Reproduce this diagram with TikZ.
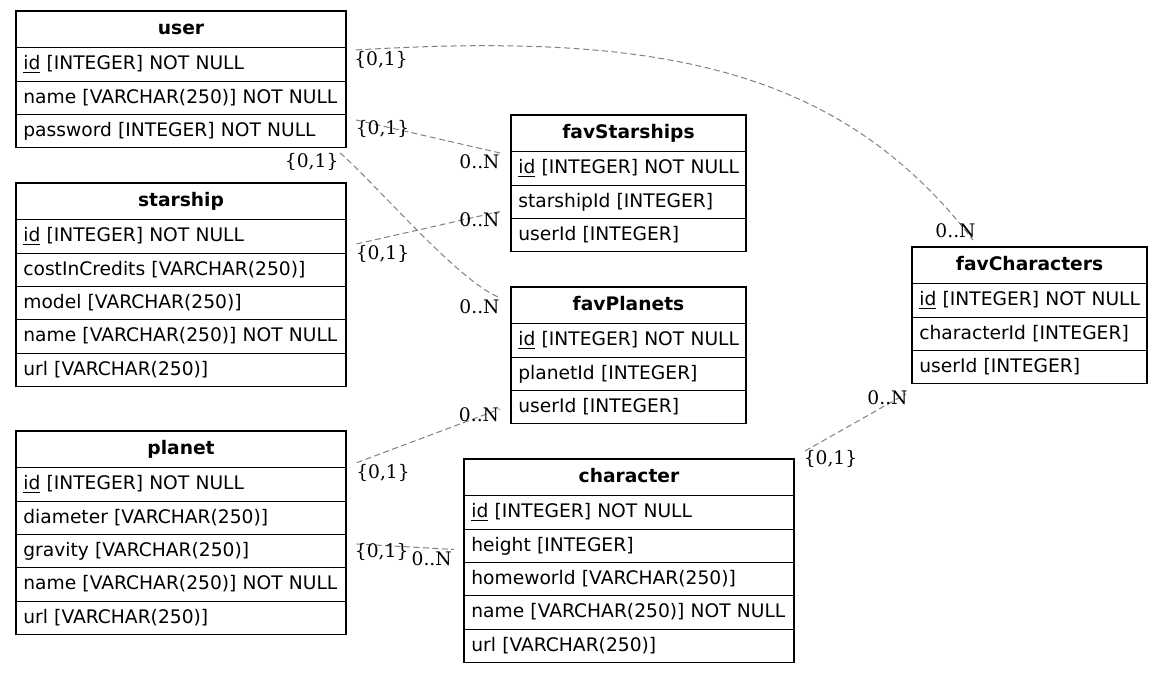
\documentclass[tikz,border=0pt]{standalone}
\usepackage{fontspec}
\setmainfont{DejaVu Sans}
\newfontfamily\lblfont{DejaVu Serif}
\usetikzlibrary{calc}
\definecolor{edgegray}{RGB}{128,128,128}
\newcommand\keyid{$\underline{\hbox{id}}$}
\newcommand\cellt[1]{\mbox{#1}}
\begin{document}
\begin{tikzpicture}[x=0.75pt,y=-0.75pt,
  tbl/.style={draw=black, line width=0.8pt, rectangle, anchor=north west, outer sep=0pt, inner xsep=5.5pt, inner ysep=0pt, text height=10.5pt, text depth=2.55pt, font=\fontsize{14pt}{16pt}\selectfont},
  hdr/.style={tbl, minimum height=27.5pt, align=center, font=\fontsize{14pt}{16pt}\selectfont\bfseries},
  row/.style={tbl, minimum height=25.05pt, align=left},
  wide/.style={minimum width=247.5pt, text width=236.5pt},
  narrow/.style={minimum width=176.25pt, text width=165.25pt},
  rel/.style={draw=edgegray, line width=0.75pt, dash pattern=on 4.5pt off 2.6pt},
  card/.style={inner sep=0pt, font=\lblfont\fontsize{14pt}{16pt}\selectfont}
]
\useasboundingbox (0,0) rectangle (1163,673);

% user
\node[hdr,wide] (u0) at (16,11) {user};
\node[row,wide] (u1) at (u0.south west) {\cellt{\keyid{} [INTEGER] NOT NULL}};
\node[row,wide] (u2) at (u1.south west) {\cellt{name [VARCHAR(250)] NOT NULL}};
\node[row,wide] (u3) at (u2.south west) {\cellt{password [INTEGER] NOT NULL}};

% starship
\node[hdr,wide] (s0) at (16,183) {starship};
\node[row,wide] (s1) at (s0.south west) {\cellt{\keyid{} [INTEGER] NOT NULL}};
\node[row,wide] (s2) at (s1.south west) {\cellt{costInCredits [VARCHAR(250)]}};
\node[row,wide] (s3) at (s2.south west) {\cellt{model [VARCHAR(250)]}};
\node[row,wide] (s4) at (s3.south west) {\cellt{name [VARCHAR(250)] NOT NULL}};
\node[row,wide] (s5) at (s4.south west) {\cellt{url [VARCHAR(250)]}};

% planet
\node[hdr,wide] (p0) at (16,431) {planet};
\node[row,wide] (p1) at (p0.south west) {\cellt{\keyid{} [INTEGER] NOT NULL}};
\node[row,wide] (p2) at (p1.south west) {\cellt{diameter [VARCHAR(250)]}};
\node[row,wide] (p3) at (p2.south west) {\cellt{gravity [VARCHAR(250)]}};
\node[row,wide] (p4) at (p3.south west) {\cellt{name [VARCHAR(250)] NOT NULL}};
\node[row,wide] (p5) at (p4.south west) {\cellt{url [VARCHAR(250)]}};

% favStarships
\node[hdr,narrow] (fs0) at (511,115) {favStarships};
\node[row,narrow] (fs1) at (fs0.south west) {\cellt{\keyid{} [INTEGER] NOT NULL}};
\node[row,narrow] (fs2) at (fs1.south west) {\cellt{starshipId [INTEGER]}};
\node[row,narrow] (fs3) at (fs2.south west) {\cellt{userId [INTEGER]}};

% favPlanets
\node[hdr,narrow] (fp0) at (511,287) {favPlanets};
\node[row,narrow] (fp1) at (fp0.south west) {\cellt{\keyid{} [INTEGER] NOT NULL}};
\node[row,narrow] (fp2) at (fp1.south west) {\cellt{planetId [INTEGER]}};
\node[row,narrow] (fp3) at (fp2.south west) {\cellt{userId [INTEGER]}};

% character
\node[hdr,wide] (c0) at (464,459) {character};
\node[row,wide] (c1) at (c0.south west) {\cellt{\keyid{} [INTEGER] NOT NULL}};
\node[row,wide] (c2) at (c1.south west) {\cellt{height [INTEGER]}};
\node[row,wide] (c3) at (c2.south west) {\cellt{homeworld [VARCHAR(250)]}};
\node[row,wide] (c4) at (c3.south west) {\cellt{name [VARCHAR(250)] NOT NULL}};
\node[row,wide] (c5) at (c4.south west) {\cellt{url [VARCHAR(250)]}};

% favCharacters
\node[hdr,narrow] (fc0) at (912,247) {favCharacters};
\node[row,narrow] (fc1) at (fc0.south west) {\cellt{\keyid{} [INTEGER] NOT NULL}};
\node[row,narrow] (fc2) at (fc1.south west) {\cellt{characterId [INTEGER]}};
\node[row,narrow] (fc3) at (fc2.south west) {\cellt{userId [INTEGER]}};

% relationships
\draw[rel] ([shift={(10,2.3)}]u1.north east) .. controls (656,32) and (839,66) .. ([shift={(61,-7)}]fc0.north west);
\draw[rel] ([shift={(10,5.5)}]u3.north east) -- ([shift={(-11,1.3)}]fs1.north west);
\draw[rel] ([shift={(-6,5)}]u3.south east) .. controls (375,183) and (455,278) .. ([shift={(-13,10)}]fp0.north west);
\draw[rel] ([shift={(10.5,24.3)}]s1.north east) -- ([shift={(-11,26.4)}]fs2.north west);
\draw[rel] ([shift={(10.7,31.7)}]p0.north east) -- ([shift={(-11,18.5)}]fp3.north west);
\draw[rel] ([shift={(10.7,9.5)}]p3.north east) -- ([shift={(-10,20.4)}]c2.north west);
\draw[rel] ([shift={(11,-8)}]c0.north east) -- ([shift={(-6,10)}]fc3.south west);

% cardinalities
\node[card] (l1a) at (381,60) {\{0,1\}};
\node[card] (l1b) at (955.5,231) {0..N};
\node[card] (l2a) at (382.5,129) {\{0,1\}};
\node[card] (l2b) at (479.5,161.7) {0..N};
\node[card] (l3a) at (311.7,161.5) {\{0,1\}};
\node[card] (l3b) at (479.5,306.7) {0..N};
\node[card] (l4a) at (382.5,254) {\{0,1\}};
\node[card] (l4b) at (479.5,220) {0..N};
\node[card] (l5a) at (383,473) {\{0,1\}};
\node[card] (l5b) at (479,415) {0..N};
\node[card] (l6a) at (381.7,551.5) {\{0,1\}};
\node[card] (l6b) at (431.7,558.3) {0..N};
\node[card] (l7a) at (830.5,459) {\{0,1\}};
\node[card] (l7b) at (887.5,398) {0..N};
\end{tikzpicture}
\end{document}
